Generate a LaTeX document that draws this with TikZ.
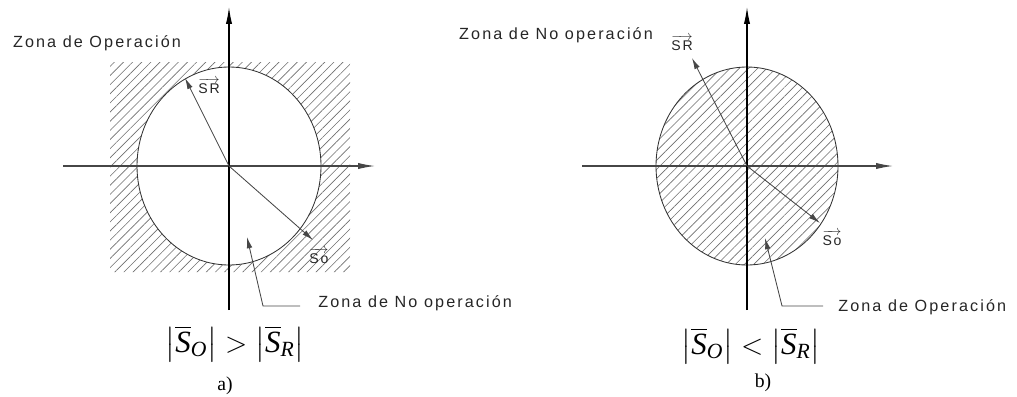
\documentclass[tikz,border=0pt]{standalone}
\usepackage{amsmath}
\usepackage{fontspec}
\setmainfont{Liberation Serif}
\newfontfamily\cadfont[LetterSpace=13]{Liberation Sans}
\usetikzlibrary{arrows.meta, positioning, calc, patterns.meta}

% vector label with an arrow over it
\newcommand{\veclbl}[1]{$\overrightarrow{\hbox{\cadfont #1}}$}
% magnitude |S_x| in Times italic
\newcommand{\magn}[1]{\left|\overline{\textit{S}}_{\textit{#1}}\right|}

\begin{document}
\begin{tikzpicture}[x=0.025cm, y=-0.025cm,
  axis/.style={draw=axisgray, line width=0.8pt, -{Latex[length=12pt,width=4.4pt]}},
  vec/.style={draw=axisgray, line width=0.6pt, -{Latex[length=8pt,width=4pt]}},
  lead/.style={draw=axisgray, line width=0.6pt, -{Latex[length=8pt,width=4pt]}},
  rim/.style={draw=black!80, line width=0.6pt},
  hatch/.style={pattern={Lines[angle=45,distance=4.6pt,line width=0.45pt]}, pattern color=hatchgray},
  lbl/.style={inner sep=0pt, font=\cadfont\fontsize{11.5}{13}\selectfont, text=black!85},
  vlbl/.style={inner sep=0pt, font=\cadfont\fontsize{10}{12}\selectfont, text=black!85},
  eqn/.style={inner sep=0pt, font=\fontsize{22}{26}\selectfont},
  sublbl/.style={inner sep=0pt, font=\fontsize{14}{16}\selectfont}]

  % Define colors
  \definecolor{axisgray}{RGB}{70,70,70}
  \definecolor{hatchgray}{RGB}{110,110,110}

  % Define sizes of the circles
  \def\rx{92}
  \def\ry{99}

  \useasboundingbox (0,0) rectangle (1017,396);

  % ---------------- a) ----------------
  \coordinate (Oa) at (229,166);
  \coordinate (yTa) at (229,7);
  \coordinate (yBa) at (229,310);
  \coordinate (xLa) at (63,166);
  \coordinate (xRa) at (375,166);
  \coordinate (SRa) at (185,78);
  \coordinate (SOa) at (313,240);
  \coordinate (tipA) at (247,237);
  \coordinate (kneeA) at (263,306);

  % hatched square without the circle
  \fill[hatch, even odd rule] (110,62) rectangle (350,272) (Oa) ellipse [x radius=\rx, y radius=\ry];
  \draw[rim] (Oa) ellipse [x radius=\rx, y radius=\ry];

  % axes
  \draw[axis] (xLa) -- (xRa);
  \draw[axis, draw=black] (yBa) -- (yTa);

  % vectors
  \draw[vec] (Oa) -- (SRa);
  \draw[vec] (Oa) -- (SOa);
  \node[vlbl] (lSRa) at (209,86) {\veclbl{SR}};
  \node[vlbl] (lSOa) at (319,256) {\veclbl{So}};

  % zones
  \node[lbl] (opA) at (97,43) {Zona de Operación};
  \node[lbl, anchor=west] (noA) at (318,303) {Zona de No operación};
  \draw[lead] ($(noA.west)+(-18,3)$) -- (kneeA) -- (tipA);

  % condition
  \node[eqn] (eqA) at (235,344) {$\magn{O} > \magn{R}$};
  \node[sublbl] (capA) at (225,386) {a)};

  % ---------------- b) ----------------
  \coordinate (Ob) at (747,166);
  \coordinate (yTb) at (747,7);
  \coordinate (yBb) at (747,310);
  \coordinate (xLb) at (582,166);
  \coordinate (xRb) at (893,166);
  \coordinate (SRb) at (692,58);
  \coordinate (SOb) at (820,223);
  \coordinate (tipB) at (765,238);
  \coordinate (kneeB) at (782,306);

  % hatched circle
  \fill[hatch] (Ob) ellipse [x radius=91, y radius=\ry];
  \draw[rim] (Ob) ellipse [x radius=91, y radius=\ry];

  % axes
  \draw[axis] (xLb) -- (xRb);
  \draw[axis, draw=black] (yBb) -- (yTb);

  % vectors
  \draw[vec] (Ob) -- (SRb);
  \draw[vec] (Ob) -- (SOb);
  \node[vlbl] (lSRb) at (682,43) {\veclbl{SR}};
  \node[vlbl] (lSOb) at (832,238) {\veclbl{So}};

  % zones
  \node[lbl] (noB) at (556,35) {Zona de No operación};
  \node[lbl, anchor=west] (opB) at (838,307) {Zona de Operación};
  \draw[lead] ($(opB.west)+(-15,-1)$) -- (kneeB) -- (tipB);

  % condition
  \node[eqn] (eqB) at (751,346) {$\magn{O} < \magn{R}$};
  \node[sublbl] (capB) at (763,383) {b)};

\end{tikzpicture}
\end{document}
